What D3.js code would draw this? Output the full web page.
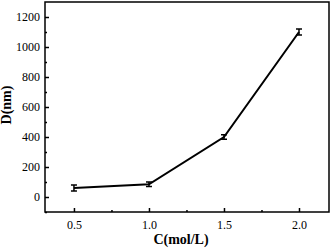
<!DOCTYPE html>
<html>
<head>
<meta charset="utf-8">
<script src="https://cdn.jsdelivr.net/npm/d3@7"></script>
<style>
  body { margin: 0; background: #fff; }
  text { font-family: "Liberation Serif", "Times New Roman", serif; }
</style>
</head>
<body>
<div id="chart"></div>
<script>
const concs = [0.5, 1.0, 1.5, 2.0];
const sizes = [60, 85, 400, 1100];
const errs = [20, 15, 15, 20];
const xTicks = [0.5, 1.0, 1.5, 2.0];
const xMinor = [0.75, 1.25, 1.75];
const yTicks = [0, 200, 400, 600, 800, 1000, 1200];
const yMinor = [-100, 100, 300, 500, 700, 900, 1100];

const W = 331, H = 249;
const margin = { left: 45, right: 2, top: 2, bottom: 37 };
const width = W - margin.left - margin.right,
  height = H - margin.top - margin.bottom;

const svg = d3.select("#chart").append("svg")
  .attr("width", W).attr("height", H);
const g = svg.append("g")
  .attr("transform", `translate(${margin.left},${margin.top})`);

const x = d3.scaleLinear().domain([0.307, 2.2]).range([0, width]);
const y = d3.scaleLinear().domain([-100, 1300]).range([height, 0]);

// frame
g.append("rect").attr("width", width).attr("height", height)
  .attr("fill", "none").attr("stroke", "#000").attr("stroke-width", 1.5);

// x axis (inward ticks), minor ticks in own group
g.append("g").attr("transform", `translate(0,${height})`)
  .call(d3.axisBottom(x).tickValues(xTicks).tickFormat(d3.format(".1f"))
    .tickSizeInner(-4).tickSizeOuter(0).tickPadding(8));
g.append("g").attr("transform", `translate(0,${height})`)
  .call(d3.axisBottom(x).tickValues(xMinor).tickFormat("")
    .tickSizeInner(-2).tickSizeOuter(0));

// y axis
g.append("g")
  .call(d3.axisLeft(y).tickValues(yTicks).tickFormat(d3.format("d"))
    .tickSizeInner(-4).tickSizeOuter(0).tickPadding(5));
g.append("g")
  .call(d3.axisLeft(y).tickValues(yMinor).tickFormat("")
    .tickSizeInner(-2).tickSizeOuter(0));

g.selectAll(".domain").remove();
svg.selectAll(".tick line").attr("stroke", "#000").attr("stroke-width", 1.5);
svg.selectAll(".tick text").attr("font-size", 12)
  .style("font-family", "Liberation Serif, serif").attr("fill", "#000");

// line
const line = d3.line().x((d, i) => x(concs[i])).y(d => y(d));
g.append("path").attr("d", line(sizes))
  .attr("fill", "none").attr("stroke", "#000").attr("stroke-width", 2);

// error bars
const eb = g.selectAll(".eb").data(sizes).join("g");
eb.append("line")
  .attr("x1", (d, i) => x(concs[i])).attr("x2", (d, i) => x(concs[i]))
  .attr("y1", (d, i) => y(d - errs[i])).attr("y2", (d, i) => y(d + errs[i]))
  .attr("stroke", "#000").attr("stroke-width", 1.5);
[-1, 1].forEach(s => {
  eb.append("line")
    .attr("x1", (d, i) => x(concs[i]) - 3).attr("x2", (d, i) => x(concs[i]) + 3)
    .attr("y1", (d, i) => y(d + s * errs[i])).attr("y2", (d, i) => y(d + s * errs[i]))
    .attr("stroke", "#000").attr("stroke-width", 1.5);
});

// titles
svg.append("text").attr("x", 181).attr("y", 244)
  .attr("text-anchor", "middle").attr("font-size", 14).attr("font-weight", "bold")
  .text("C(mol/L)");
svg.append("text")
  .attr("transform", `translate(11,105) rotate(-90)`)
  .attr("text-anchor", "middle").attr("font-size", 14).attr("font-weight", "bold")
  .text("D(nm)");
</script>
</body>
</html>
